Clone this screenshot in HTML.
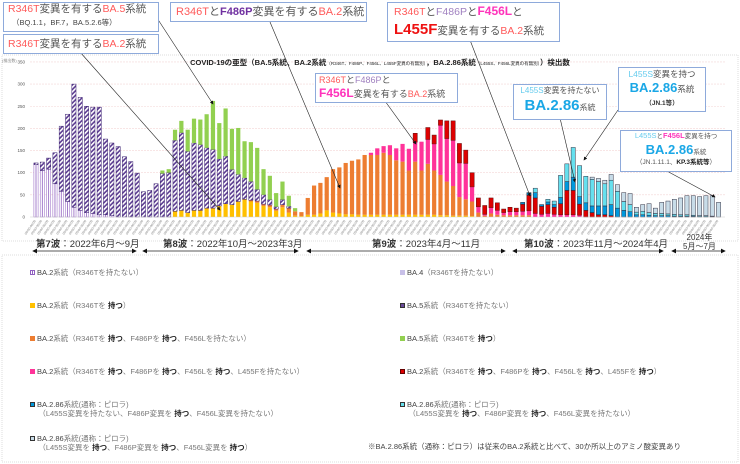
<!DOCTYPE html>
<html><head><meta charset="utf-8">
<style>
html,body{margin:0;padding:0;background:#fff;}
body{width:740px;height:464px;overflow:hidden;position:relative;font-family:"Liberation Sans","Noto Sans CJK JP",sans-serif;}
.box{position:absolute;background:#fff;border:1px solid #8eaadb;color:#555;white-space:nowrap;}
.r{color:#ff5a5a}.pu{color:#7030a0;font-weight:bold}.pl{color:#a080c0}.mg{color:#ff33bb;font-weight:bold}
.bl{color:#1aa7e6;font-weight:bold}.lb{color:#66ccee}
.lg{position:absolute;font-size:7.5px;color:#777;white-space:nowrap;line-height:9px}
.lg b{color:#222}.lg .k{color:#444}
.sq{display:inline-block;width:5px;height:5px;margin-right:2px;vertical-align:0px;box-sizing:border-box}
</style></head><body>
<svg id="s" width="740" height="464" style="position:absolute;left:0;top:0">
<defs>
<pattern id="p5" width="3.2" height="3.2" patternUnits="userSpaceOnUse" patternTransform="rotate(45)">
<rect width="3.2" height="3.2" fill="#5a3a90"/><rect width="1.6" height="3.2" fill="#fff"/></pattern>
<marker id="ah" markerWidth="6" markerHeight="6" refX="5" refY="3" orient="auto"><path d="M0,0L6,3L0,6z" fill="#111"/></marker>
<marker id="ab" markerWidth="6" markerHeight="6" refX="1" refY="3" orient="auto"><path d="M6,0L0,3L6,6z" fill="#111"/></marker>
</defs>
<rect x="2" y="55" width="736" height="186" fill="none" stroke="#ddd" stroke-dasharray="1,1"/>
<rect x="2" y="255" width="736" height="207" fill="none" stroke="#ddd" stroke-dasharray="1,1"/>
<g id="g"></g>
</svg>

<div style="position:absolute;left:140px;top:57px;width:480px;text-align:center;font-size:7.5px;font-weight:bold;color:#222;white-space:nowrap">COVID-19の亜型（BA.5系統、BA.2系統<span style="font-size:4.5px;font-weight:normal">（R346T、F486P、F456L、L455F変異の有無別）</span>，BA.2.86系統<span style="font-size:4.5px;font-weight:normal">（L455S、F456L変異の有無別）</span>）検出数</div>

<div style="position:absolute;left:36px;top:236px;font-size:9.5px;color:#333;white-space:nowrap"><b>第7波</b>：2022年6月～9月</div>
<div style="position:absolute;left:163px;top:236px;font-size:9.5px;color:#333;white-space:nowrap"><b>第8波</b>：2022年10月～2023年3月</div>
<div style="position:absolute;left:372px;top:236px;font-size:9.5px;color:#333;white-space:nowrap"><b>第9波</b>：2023年4月～11月</div>
<div style="position:absolute;left:524px;top:236px;font-size:9.5px;color:#333;white-space:nowrap"><b>第10波</b>：2023年11月～2024年4月</div>
<div style="position:absolute;left:683px;top:233px;font-size:8px;color:#333;line-height:9px;text-align:center;white-space:nowrap">2024年<br>5月～7月</div>

<div class="box" style="left:3px;top:2px;width:150px;height:28px;font-size:10.5px;line-height:13px;padding-left:4px"><span class="r">R346T</span>変異を有する<span class="r">BA.5</span>系統<br><span style="font-size:7.5px;color:#444;padding-left:4px">（BQ.1.1，BF.7，BA.5.2.6等）</span></div>
<div class="box" style="left:3px;top:34px;width:150px;height:18px;font-size:10.5px;line-height:18px;padding-left:4px"><span class="r">R346T</span>変異を有する<span class="r">BA.2</span>系統</div>
<div class="box" style="left:170px;top:2px;width:190px;height:18px;font-size:11px;line-height:18px;padding-left:5px"><span class="r">R346T</span>と<span class="pu">F486P</span>変異を有する<span class="r">BA.2</span>系統</div>
<div class="box" style="left:387px;top:2px;width:165px;height:38px;font-size:10.5px;line-height:17px;padding-left:6px"><span class="r">R346T</span>と<span class="pl">F486P</span>と<span class="mg" style="font-size:12px">F456L</span>と<br><span style="color:#ee1111;font-weight:bold;font-size:15px">L455F</span>変異を有する<span class="r">BA.2</span>系統</div>
<div class="box" style="left:315px;top:73px;width:138px;height:28px;font-size:9px;line-height:13px;padding-left:3px"><span class="r">R346T</span>と<span class="pl">F486P</span>と<br><span class="mg" style="font-size:12px">F456L</span>変異を有する<span class="r">BA.2</span>系統</div>
<div class="box" style="left:513px;top:84px;width:92px;height:34px;font-size:8px;line-height:11px;text-align:center;color:#555"><span class="lb">L455S</span>変異を持たない<br><span class="bl" style="font-size:15px;line-height:20px">BA.2.86</span>系統</div>
<div class="box" style="left:618px;top:67px;width:86px;height:43px;font-size:8.5px;line-height:12px;text-align:center;color:#555"><span class="lb">L455S</span>変異を持つ<br><span class="bl" style="font-size:13px;line-height:16px">BA.2.86</span>系統<br><span style="font-size:6.5px;color:#333;font-weight:bold">（JN.1等）</span></div>
<div class="box" style="left:620px;top:130px;width:110px;height:40px;font-size:6.5px;line-height:10px;text-align:center;color:#555"><span class="lb" style="font-size:7.5px">L455S</span>と<span class="mg" style="font-size:7.5px">F456L</span>変異を持つ<br><span class="bl" style="font-size:13px;line-height:16px">BA.2.86</span>系統<br><span style="color:#555">（JN.1.11.1、<b style="color:#222">KP.3系統等</b>）</span></div>

<div class="lg" style="left:30px;top:268px"><span class="sq" style="border:1px solid #9060c0;background:linear-gradient(90deg,#fff 40%,#9060c0 40%,#9060c0 60%,#fff 60%)"></span><span class="k">BA.2</span>系統（R346Tを持たない）</div>
<div class="lg" style="left:30px;top:301px"><span class="sq" style="background:#ffc000"></span><span class="k">BA.2</span>系統（R346Tを <b>持つ</b>）</div>
<div class="lg" style="left:30px;top:334px"><span class="sq" style="background:#ed7d31"></span><span class="k">BA.2</span>系統（R346Tを <b>持つ</b>、F486Pを <b>持つ</b>、F456Lを持たない）</div>
<div class="lg" style="left:30px;top:367px"><span class="sq" style="background:#ff3399"></span><span class="k">BA.2</span>系統（R346Tを <b>持つ</b>、F486Pを <b>持つ</b>、F456Lを <b>持つ</b>、L455Fを持たない）</div>
<div class="lg" style="left:30px;top:400px"><span class="sq" style="background:#0099dd;border:1px solid #333"></span><span class="k">BA.2.86</span>系統(通称：ピロラ)<br>&nbsp;&nbsp;&nbsp;&nbsp;（L455S変異を持たない、F486P変異を <b>持つ</b>、F456L変異を持たない）</div>
<div class="lg" style="left:30px;top:434px"><span class="sq" style="background:#c8dce8;border:1px solid #333"></span><span class="k">BA.2.86</span>系統(通称：ピロラ)<br>&nbsp;&nbsp;&nbsp;&nbsp;（L455S変異を <b>持つ</b>、F486P変異を <b>持つ</b>、F456L変異を <b>持つ</b>）</div>

<div class="lg" style="left:400px;top:268px"><span class="sq" style="background:#c8c0e8"></span><span class="k">BA.4</span>（R346Tを持たない）</div>
<div class="lg" style="left:400px;top:301px"><span class="sq" style="border:1px solid #333;background:#6a4a9a"></span><span class="k">BA.5</span>系統（R346Tを持たない）</div>
<div class="lg" style="left:400px;top:334px"><span class="sq" style="background:#92d050"></span><span class="k">BA.5</span>系統（R346Tを <b>持つ</b>）</div>
<div class="lg" style="left:400px;top:367px"><span class="sq" style="background:#dd0000;border:1px solid #600"></span><span class="k">BA.2</span>系統（R346Tを <b>持つ</b>、F486Pを <b>持つ</b>、F456Lを <b>持つ</b>、L455Fを <b>持つ</b>）</div>
<div class="lg" style="left:400px;top:400px"><span class="sq" style="background:#66e0ee;border:1px solid #333"></span><span class="k">BA.2.86</span>系統(通称：ピロラ)<br>&nbsp;&nbsp;&nbsp;&nbsp;（L455S変異を <b>持つ</b>、F486P変異を <b>持つ</b>、F456L変異を持たない）</div>
<div class="lg" style="left:368px;top:442px;color:#444">※BA.2.86系統（通称：ピロラ）は従来のBA.2系統と比べて、30か所以上のアミノ酸変異あり</div>

<script>
var NS="http://www.w3.org/2000/svg",g=document.getElementById("g");
function el(t,a,txt){var e=document.createElementNS(NS,t);for(var k in a)e.setAttribute(k,a[k]);if(txt)e.textContent=txt;g.appendChild(e);return e;}
function Y(v){return 217-v*0.443;}
for(var v=0;v<=350;v+=50){ if(v>0)el("line",{x1:30,x2:725,y1:Y(v),y2:Y(v),stroke:"#f3d6d6","stroke-width":0.6,"stroke-dasharray":"2,1"});
 el("text",{x:25,y:Y(v)+1.5,"font-size":4.5,"text-anchor":"end",fill:"#555","font-family":"Liberation Sans"},String(v));}
el("text",{x:2,y:62,"font-size":4,fill:"#888","font-family":"Liberation Sans"},"(検出数)");
var C={n:["#fff","#9060c0"],a:["#c8c0e8",null],f:["url(#p5)","#3a2070"],y:["#ffc000",null],g:["#92d050",null],o:["#ed7d31",null],p:["#ff3399",null],r:["#dd0000","#601010"],b:["#0099dd","#223"],c:["#66e0ee","#334"],s:["#c8dce8","#334"]};
var D=[
"n118f4","n105f19","n108f25","n75f70","n58f147","n35f197","n22f278","n15f255","n10f240","n8f240","n5f243","n5f171","n3f164","f159","f136","f125","f99",
"f57","f60","f75","f98g7","f100g8","y13f160g24","y15f175g27","y10f138g49","y15f152g55","y15f148g57","y20f136g76","y20f132g110","y25f106g81","y30f107g108","y28f79g92","y35f61g105","y40f48g83","y35o3f42g89","y32o4f26g94","y25o4f21g58","y22o5f12g54","y14o4f5g31","y22o6f11g41","y10o10f4g24","y3o10g7","y2o9",
"y5o38","y5o66","y8o69","y15o75","y10o98","y8o104","y6o116","y6o121","y5o125","y5o135",
"y5o135p5","y5o135p15","y5o140p15","y5o135p22","y5o123p27","y5o120p40","y5o100p49","y5o120p44r20","y5o100p65","y5o115p55r27","y5o100p60r20","y4o91p112r12","y4o76p97r40","y3o67p103r44","y3o42p77r44","y3o37p81r30","y2o33p33r32","o10p13r20","o3p3r20","o8p13r22","o5p10r17","o4p6r8","o4p8r10","o4p8r8","o4p9r16b4","o4p10r35b6","p8r35b12c10","p6r18b4","p8r20b6c6","p6r16b6c8",
"p5r25b14c50","p5r55b20c40","p5r55b30c67","p4r25b17c70","r15b17c60","r10b15c60s5","r5b20c55s7","r5b20c50s8","r3b25c55s13","b20c38s15","b15c20s20","b12c16s25","b5c6s11","b5c8s15","b4c6s20","b3c5s12","b3c5s25","b3c4s29","b2c4s34","b2c3s38","b2c3s43","b2c2s44","b1c2s43","b1c2s45","b1c1s46","s33"];
var bw=4.2;
D.forEach(function(s,i){var x=36+6.32*i-bw/2,cum=0,re=/([a-z])(\d+)/g,m;
 while((m=re.exec(s))){var t=m[1],v=+m[2],c=C[t];var y1=Y(cum+v),h=v*0.443;
  el("rect",{x:x,y:y1,width:bw,height:h,fill:c[0],stroke:c[1]||"none","stroke-width":c[1]?0.5:0});
  if(t=="n")el("line",{x1:x+bw/2,x2:x+bw/2,y1:y1,y2:y1+h,stroke:"#9060c0","stroke-width":0.8});
  cum+=v;}
 var tx=x+bw/2;el("text",{x:tx,y:221,"font-size":3.2,fill:"#888","text-anchor":"end",transform:"rotate(-55 "+tx+" 221)","font-family":"Liberation Sans"},"00/00-00/00");
});
el("line",{x1:30,x2:725,y1:217,y2:217,stroke:"#ccc","stroke-width":0.5});
[[33,136],[143,298],[307,505],[513,663],[672,725]].forEach(function(a){el("line",{x1:a[0],x2:a[1],y1:251,y2:251,stroke:"#222","stroke-width":0.8,"marker-end":"url(#ah)","marker-start":"url(#ab)"});});
[[157,18,213,104],[80,52,220,210],[270,22,340,188],[470,40,530,196],[385,101,416,144],[560,118,575,182],[618,110,584,160],[665,170,715,197]].forEach(function(a){el("line",{x1:a[0],y1:a[1],x2:a[2],y2:a[3],stroke:"#222","stroke-width":0.6,"marker-end":"url(#ah)"});});
</script>
</body></html>
